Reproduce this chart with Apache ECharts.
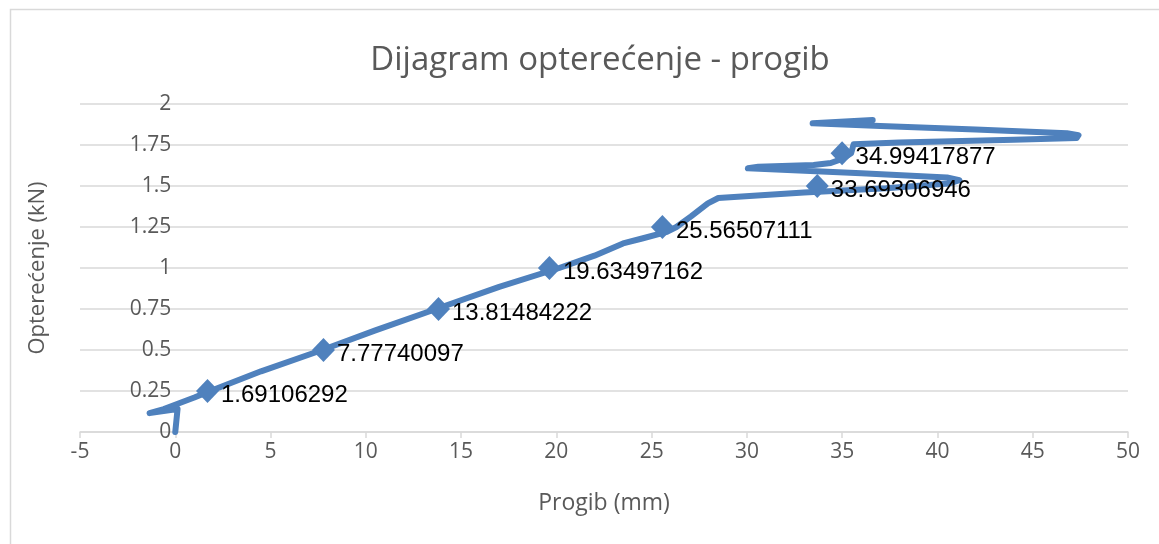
<!DOCTYPE html>
<html>
<head>
<meta charset="utf-8">
<script src="https://cdn.jsdelivr.net/npm/echarts@6/dist/echarts.min.js"></script>
<style>
  html, body { margin: 0; padding: 0; background: #ffffff; }
  #chart { width: 1159px; height: 544px; }
</style>
</head>
<body>
<div id="chart"></div>
<script>
// Load–deflection curve: [deflection (mm), load (kN)]
const curvePoints = [
  [0.00, 0.000], [0.12, 0.140], [-1.35, 0.115], [-0.60, 0.140], [0.20, 0.175],
  [1.00, 0.210], [1.84, 0.250], [4.50, 0.370], [7.71, 0.500], [10.50, 0.620],
  [13.69, 0.750], [17.00, 0.885], [20.15, 1.000], [22.00, 1.075], [23.50, 1.150],
  [24.50, 1.180], [25.80, 1.220], [26.30, 1.250], [27.07, 1.315], [27.95, 1.394],
  [28.50, 1.427], [33.00, 1.460], [37.30, 1.486], [40.60, 1.515], [41.15, 1.535],
  [40.50, 1.552], [36.00, 1.578], [30.05, 1.608], [30.60, 1.618], [33.50, 1.628],
  [34.40, 1.640], [35.00, 1.665], [35.47, 1.700], [35.60, 1.755], [38.00, 1.765],
  [44.00, 1.782], [47.30, 1.792], [47.40, 1.810], [46.80, 1.822], [42.00, 1.845],
  [37.00, 1.866], [33.45, 1.882], [33.50, 1.893], [36.60, 1.902]
];

// Marked readings
const markerLoads = [0.25, 0.5, 0.75, 1.0, 1.25, 1.5, 1.7];
const markerDeflections = [1.69106292, 7.77740097, 13.81484222, 19.63497162, 25.56507111, 33.69306946, 34.99417877];

// Axis ranges and ticks
const xRange = { min: -5, max: 50, step: 5 };
const yRange = { min: 0, max: 2, step: 0.25 };

const titleText = 'Dijagram opterećenje - progib';
const xAxisTitle = 'Progib (mm)';
const yAxisTitle = 'Opterećenje (kN)';

const markerData = markerDeflections.map((d, i) => [d, markerLoads[i]]);

const BLUE = '#4f81bd';
const GRID = '#d9d9d9';
const TEXT = '#595959';
const FONT = '"Open Sans", "Noto Sans", sans-serif';

// plot area in pixels
const PLOT = { left: 80, right: 31, top: 104, bottom: 112 };
const plotWidth = 1159 - PLOT.left - PLOT.right;
// the vertical axis sits where deflection = 0
const zeroShift = plotWidth * (0 - xRange.min) / (xRange.max - xRange.min);

const chart = echarts.init(document.getElementById('chart'), null, { renderer: 'canvas' });

chart.setOption({
  backgroundColor: '#ffffff',
  animation: false,
  graphic: [{
    type: 'rect',
    left: 8, top: 7,
    shape: { width: 1300, height: 700 },
    style: { fill: 'none', stroke: GRID, lineWidth: 1.5 },
    silent: true,
    z: -10
  }],
  title: {
    text: titleText,
    left: 595,
    top: 39,
    textAlign: 'center',
    textStyle: { fontFamily: FONT, fontSize: 33, fontWeight: 'normal', color: TEXT }
  },
  grid: {
    left: PLOT.left, right: PLOT.right, top: PLOT.top, bottom: PLOT.bottom,
    containLabel: false,
    outerBoundsMode: 'none'
  },
  xAxis: {
    type: 'value',
    min: xRange.min, max: xRange.max, interval: xRange.step,
    name: xAxisTitle,
    nameLocation: 'middle',
    nameGap: 60,
    nameTextStyle: { fontFamily: FONT, fontSize: 23, color: TEXT },
    axisLine: { show: true, onZero: false, lineStyle: { color: GRID, width: 1.5 } },
    axisTick: { show: true, inside: false, length: 6, lineStyle: { color: GRID, width: 1.5 } },
    axisLabel: { margin: 10, fontFamily: FONT, fontSize: 21, color: TEXT },
    splitLine: { show: false }
  },
  yAxis: {
    type: 'value',
    min: yRange.min, max: yRange.max, interval: yRange.step,
    offset: -zeroShift,
    name: yAxisTitle,
    nameLocation: 'middle',
    nameRotate: 90,
    nameGap: 127,
    nameTextStyle: { fontFamily: FONT, fontSize: 22, color: TEXT },
    axisLine: { show: false, onZero: false },
    axisTick: { show: false },
    axisLabel: { margin: 4, fontFamily: FONT, fontSize: 21, color: TEXT },
    splitLine: { show: true, lineStyle: { color: GRID, width: 1.5 } }
  },
  series: [
    {
      type: 'line',
      data: curvePoints,
      showSymbol: false,
      symbol: 'none',
      smooth: false,
      lineStyle: { color: BLUE, width: 6, cap: 'round', join: 'round' },
      z: 2
    },
    {
      type: 'scatter',
      data: markerData,
      symbol: 'diamond',
      symbolSize: [23, 24],
      itemStyle: { color: BLUE, opacity: 1 },
      label: {
        show: true,
        position: 'right',
        distance: 2,
        offset: [0, 4],
        formatter: p => String(markerDeflections[p.dataIndex]),
        fontFamily: '"Liberation Sans", sans-serif',
        fontSize: 24,
        color: '#000000'
      },
      z: 3
    }
  ]
});
</script>
</body>
</html>
